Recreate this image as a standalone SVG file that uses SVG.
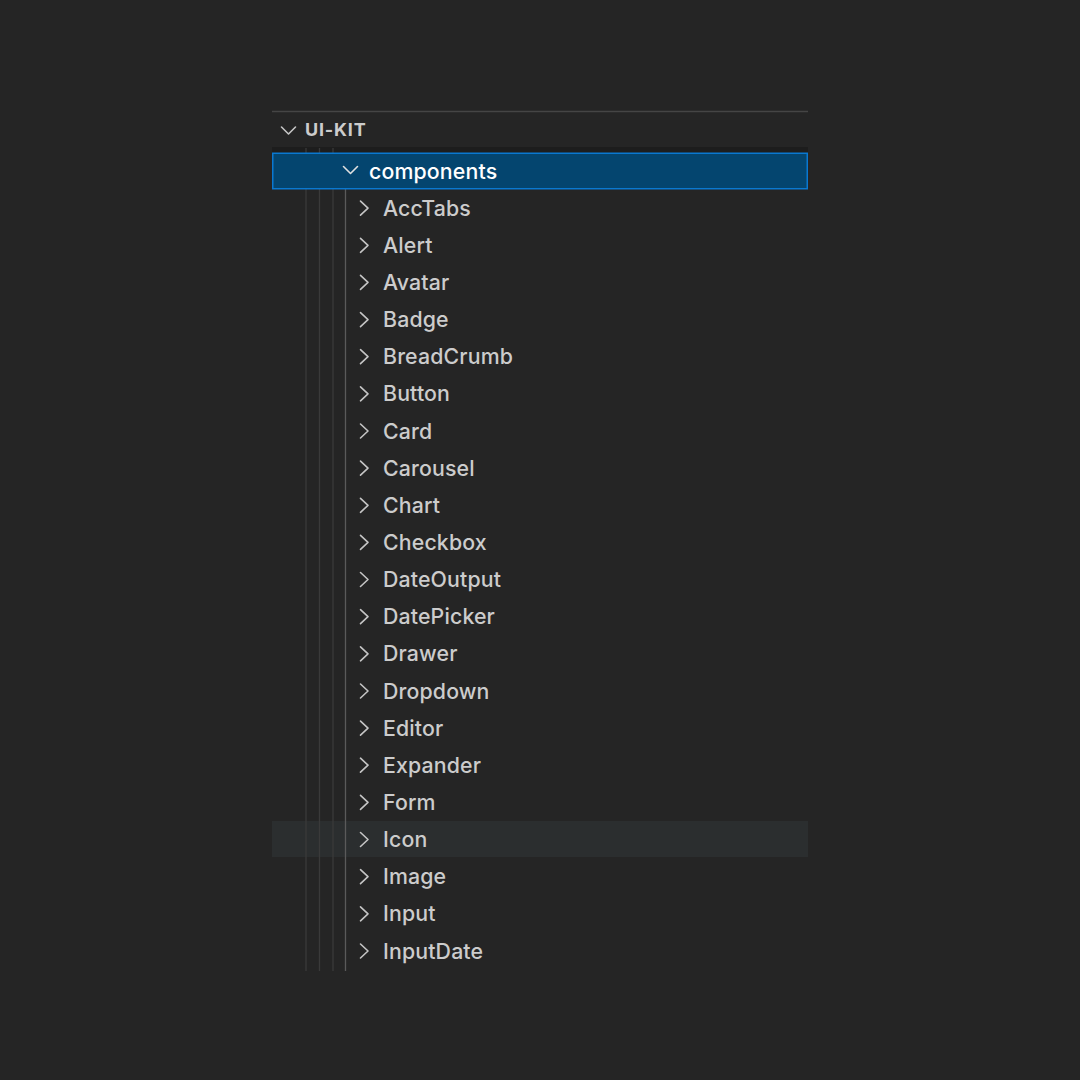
<svg xmlns="http://www.w3.org/2000/svg" width="1080" height="1080" viewBox="0 0 1080 1080">
<style>
.item{font-family:Inter,"Liberation Sans","DejaVu Sans",sans-serif;font-size:21.3px;font-weight:500;fill:#cccccc;letter-spacing:0.15px}
.sel{fill:#ffffff}
.hdr{font-family:Inter,"Liberation Sans","DejaVu Sans",sans-serif;font-size:18px;font-weight:bold;fill:#cccccc;letter-spacing:0.8px}
.chev{fill:none;stroke:#c5c5c5;stroke-width:1.6;stroke-linecap:round;stroke-linejoin:round}
.guide{stroke:#3a3a3a;stroke-width:1.3}
.guide4{stroke:#5a5a5a;stroke-width:1.3}
</style>
<defs>
<path id="right" class="chev" d="M0,-7 L7.5,0 L0,7"/>
</defs>
<rect width="1080" height="1080" fill="#252525"/>
<line x1="272" y1="111.5" x2="808" y2="111.5" stroke="#454545" stroke-width="1.5"/>
<g id="header">
<path class="chev" d="M281.5,127 L288.5,134 L295.5,127"/>
<text class="hdr" x="305" y="136">UI-KIT</text>
</g>
<rect x="272" y="147" width="536" height="6" fill="#1d1d1d"/>
<rect id="hover" x="272" y="821" width="536" height="36" fill="#2b2e2f"/>
<g id="connectors">
<line class="guide" x1="306" y1="148" x2="306" y2="971"/>
<line class="guide" x1="319.5" y1="148" x2="319.5" y2="971"/>
<line class="guide" x1="333" y1="148" x2="333" y2="971"/>
<line class="guide4" x1="345.5" y1="189" x2="345.5" y2="971"/>
</g>
<g id="components">
<rect x="272.75" y="153.25" width="534.5" height="35.5" fill="#04456f" stroke="#0a78d0" stroke-width="1.5"/>
<path class="chev" d="M343.5,166.5 L350.5,173.5 L357.5,166.5" style="stroke:#e0e0e0"/>
<text class="item sel" x="369" y="178.5">components</text>
</g>
<g id="AccTabs"><use href="#right" x="360.5" y="208.1"/><text class="item" x="383" y="215.6">AccTabs</text></g>
<g id="Alert"><use href="#right" x="360.5" y="245.3"/><text class="item" x="383" y="252.8">Alert</text></g>
<g id="Avatar"><use href="#right" x="360.5" y="282.4"/><text class="item" x="383" y="289.9">Avatar</text></g>
<g id="Badge"><use href="#right" x="360.5" y="319.6"/><text class="item" x="383" y="327.1">Badge</text></g>
<g id="BreadCrumb"><use href="#right" x="360.5" y="356.7"/><text class="item" x="383" y="364.2">BreadCrumb</text></g>
<g id="Button"><use href="#right" x="360.5" y="393.8"/><text class="item" x="383" y="401.3">Button</text></g>
<g id="Card"><use href="#right" x="360.5" y="431"/><text class="item" x="383" y="438.5">Card</text></g>
<g id="Carousel"><use href="#right" x="360.5" y="468.1"/><text class="item" x="383" y="475.6">Carousel</text></g>
<g id="Chart"><use href="#right" x="360.5" y="505.3"/><text class="item" x="383" y="512.8">Chart</text></g>
<g id="Checkbox"><use href="#right" x="360.5" y="542.4"/><text class="item" x="383" y="549.9">Checkbox</text></g>
<g id="DateOutput"><use href="#right" x="360.5" y="579.5"/><text class="item" x="383" y="587">DateOutput</text></g>
<g id="DatePicker"><use href="#right" x="360.5" y="616.7"/><text class="item" x="383" y="624.2">DatePicker</text></g>
<g id="Drawer"><use href="#right" x="360.5" y="653.8"/><text class="item" x="383" y="661.3">Drawer</text></g>
<g id="Dropdown"><use href="#right" x="360.5" y="691"/><text class="item" x="383" y="698.5">Dropdown</text></g>
<g id="Editor"><use href="#right" x="360.5" y="728.1"/><text class="item" x="383" y="735.6">Editor</text></g>
<g id="Expander"><use href="#right" x="360.5" y="765.2"/><text class="item" x="383" y="772.7">Expander</text></g>
<g id="Form"><use href="#right" x="360.5" y="802.4"/><text class="item" x="383" y="809.9">Form</text></g>
<g id="Icon"><use href="#right" x="360.5" y="839.5"/><text class="item" x="383" y="847">Icon</text></g>
<g id="Image"><use href="#right" x="360.5" y="876.7"/><text class="item" x="383" y="884.2">Image</text></g>
<g id="Input"><use href="#right" x="360.5" y="913.8"/><text class="item" x="383" y="921.3">Input</text></g>
<g id="InputDate"><use href="#right" x="360.5" y="951"/><text class="item" x="383" y="958.5">InputDate</text></g>
</svg>
